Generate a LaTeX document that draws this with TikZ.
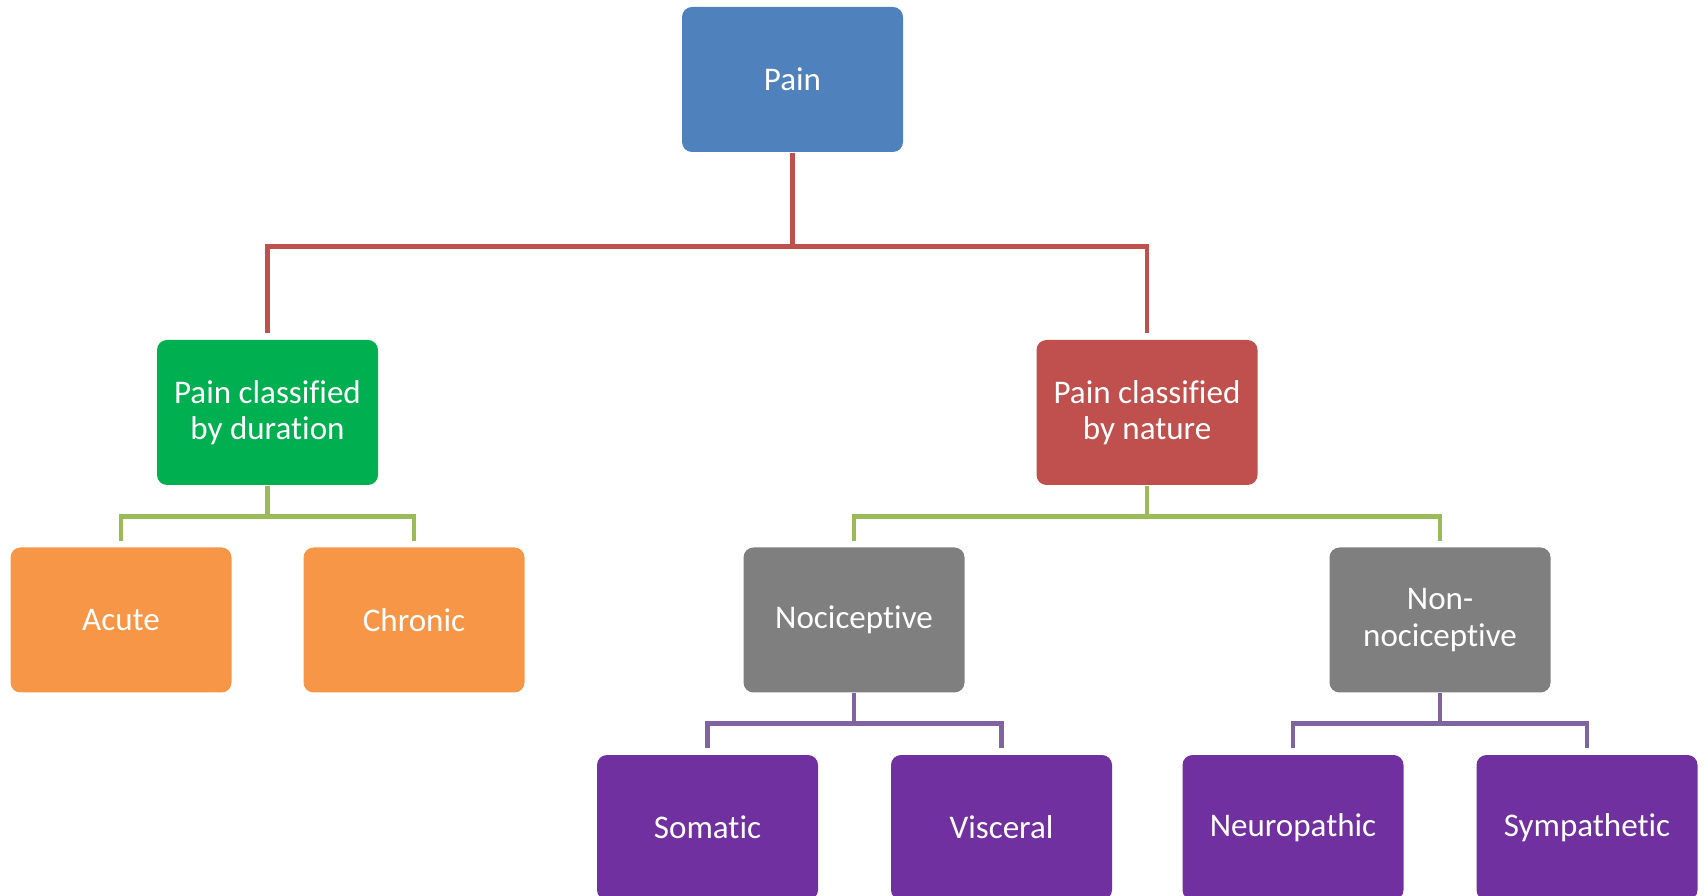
\documentclass[tikz,border=0pt]{standalone}
\usepackage{fontspec}
\setmainfont{Carlito}[Ligatures=NoCommon]
\usepackage{xcolor}
\usepackage{tikz}
\usetikzlibrary{positioning}
\definecolor{RootBlue}{HTML}{4F81BD}
\definecolor{DurGreen}{HTML}{00B050}
\definecolor{NatRed}{HTML}{C0504D}
\definecolor{LeafOrange}{HTML}{F79646}
\definecolor{MidGray}{HTML}{7F7F7F}
\definecolor{LeafPurple}{HTML}{7030A0}
\definecolor{LinkRed}{HTML}{C0504D}
\definecolor{LinkGreen}{HTML}{9BBB59}
\definecolor{LinkPurple}{HTML}{8064A2}
\tikzset{
  rootnode/.style={fill=RootBlue,rounded corners=0.1cm,
    minimum width=2.21cm,minimum height=1.45cm,
    font=\fontsize{9.4}{10.4}\selectfont\color{white},
    align=center,inner sep=2pt},
  durnode/.style={rootnode,fill=DurGreen},
  natnode/.style={rootnode,fill=NatRed},
  acnode/.style={rootnode,fill=LeafOrange},
  kindnode/.style={rootnode,fill=MidGray},
  subnode/.style={rootnode,fill=LeafPurple},
  linkR/.style={line width=1.3pt,draw=LinkRed,shorten >=0.06cm},
  linkG/.style={line width=1.3pt,draw=LinkGreen,shorten >=0.06cm},
  linkP/.style={line width=1.3pt,draw=LinkPurple,shorten >=0.06cm},
}
\begin{document}
\begin{tikzpicture}
  \useasboundingbox (0,0) rectangle (17.04,8.95);
  \clip (0,0) rectangle (17.04,8.95);
  \node[rootnode] (pain) at (7.925,8.155) {Pain};
  \node[durnode] (dur) at (2.675,4.825) {Pain classified\\by duration};
  \node[natnode] (nat) at (11.47,4.825) {Pain classified\\by nature};
  \node[acnode] (acute) at (1.21,2.75) {Acute};
  \node[acnode] (chron) at (4.14,2.75) {Chronic};
  \node[kindnode] (noci) at (8.54,2.75) {Nociceptive};
  \node[kindnode] (nonnoci) at (14.40,2.75) {Non-\\nociceptive};
  \node[subnode] (soma) at (7.075,0.675) {Somatic};
  \node[subnode] (visc) at (10.015,0.675) {Visceral};
  \node[subnode] (neuro) at (12.93,0.675) {Neuropathic};
  \node[subnode] (symp) at (15.87,0.675) {Sympathetic};
  \draw[linkR] (pain.south) -- ++(0,-0.94) -| (dur.north);
  \draw[linkR] (pain.south) -- ++(0,-0.94) -| (nat.north);
  \draw[linkG] (dur.south) -- ++(0,-0.31) -| (acute.north);
  \draw[linkG] (dur.south) -- ++(0,-0.31) -| (chron.north);
  \draw[linkG] (nat.south) -- ++(0,-0.31) -| (noci.north);
  \draw[linkG] (nat.south) -- ++(0,-0.31) -| (nonnoci.north);
  \draw[linkP] (noci.south) -- ++(0,-0.305) -| (soma.north);
  \draw[linkP] (noci.south) -- ++(0,-0.305) -| (visc.north);
  \draw[linkP] (nonnoci.south) -- ++(0,-0.305) -| (neuro.north);
  \draw[linkP] (nonnoci.south) -- ++(0,-0.305) -| (symp.north);
\end{tikzpicture}
\end{document}
